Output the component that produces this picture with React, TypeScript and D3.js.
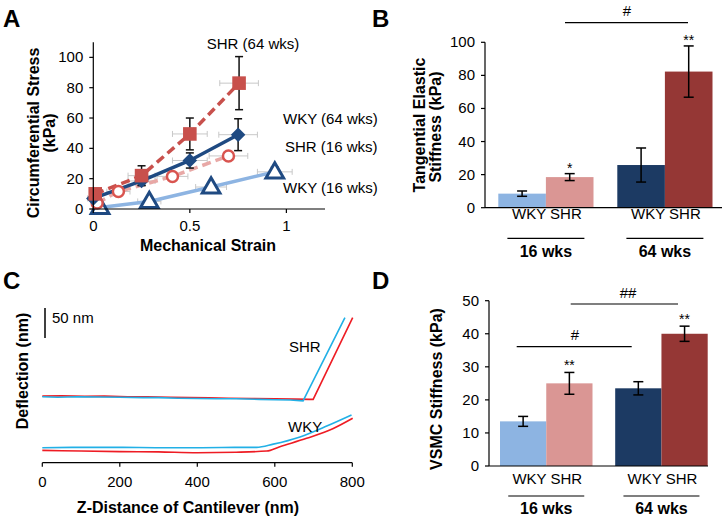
import React from 'react';
import * as d3 from 'd3';

const FONT = "'Liberation Sans', Arial, Helvetica, sans-serif";

// ---------- Panel A: stress-strain ----------
const strainTicksA = [0, 0.5, 1];
const stressTicksA = [0, 20, 40, 60, 80, 100];

const strainShr64 = [0.01, 0.25, 0.5, 0.755];
const stressShr64 = [10, 22, 49.5, 83];
const errYShr64 = [2, 6.5, 10.5, 17.5];
const errXShr64 = [0.03, 0.07, 0.09, 0.1];

const strainWky64 = [0.0, 0.25, 0.5, 0.75];
const stressWky64 = [7, 18.5, 32, 49];
const errYWky64 = [1, 3, 5, 10.5];
const errXWky64 = [0.03, 0.07, 0.09, 0.1];

const strainShr16 = [0.02, 0.13, 0.41, 0.7];
const stressShr16 = [4, 11.5, 21.5, 35];
const errYShr16 = [1, 1.5, 2, 2];
const errXShr16 = [0.02, 0.06, 0.08, 0.1];

const strainWky16 = [0.035, 0.29, 0.61, 0.94];
const stressWky16 = [1, 5, 14.5, 24.5];
const errYWky16 = [0.8, 1, 2, 3];
const errXWky16 = [0.02, 0.06, 0.08, 0.09];

// ---------- Panels B & D: bars ----------
const groups = ['16 wks', '64 wks'];
const strains = ['WKY', 'SHR'];
const tangential16 = [8.5, 18.5];
const tangential64 = [25.8, 82.3];
const tangentialErr16 = [1.6, 2.1];
const tangentialErr64 = [10.3, 15.5];
const tangentialStars = ['', '*', '', '**'];
const ticksB = [0, 20, 40, 60, 80, 100];

const vsmc16 = [13.5, 25];
const vsmc64 = [23.5, 40];
const vsmcErr16 = [1.5, 3.3];
const vsmcErr64 = [2, 2.3];
const vsmcStars = ['', '**', '', '**'];
const ticksD = [0, 10, 20, 30, 40, 50];

// ---------- Panel C: AFM force curves (z nm, deflection nm) ----------
const zTicksC = [0, 200, 400, 600, 800];
const shrBlueZ = [0, 40, 90, 150, 200, 260, 300, 350, 400, 450, 500, 560, 600, 640, 665, 673, 781];
const shrBlueD = [110, 109, 110, 109.5, 109, 108.5, 108.5, 107.5, 107, 106.5, 106.5, 105.5, 105, 104.5, 103.5, 103, 241.7];
const shrRedZ = [0, 50, 110, 160, 220, 270, 330, 380, 430, 480, 540, 600, 650, 690, 699, 801];
const shrRedD = [111, 111.5, 110.5, 111, 110, 110, 109, 108.5, 108, 107.5, 107, 106.5, 106, 105.5, 105.6, 241.7];
const wkyBlueZ = [0, 100, 200, 300, 400, 500, 553, 596, 665, 734, 798];
const wkyBlueD = [25, 25.5, 25.5, 25, 25, 25.5, 25.6, 31, 43, 61, 79.5];
const wkyRedZ = [0, 100, 200, 300, 400, 500, 579, 613, 682, 751, 801];
const wkyRedD = [20.5, 19.5, 18.5, 18, 16.7, 17.5, 19.5, 26.7, 40.6, 57, 74];
const scaleBarNm = 50;
const scaleBarBase = 207.8;

const C_LIGHTBLUE = '#8DB4E2';
const C_PINK = '#DA9694';
const C_NAVY = '#1C3A63';
const C_DARKRED = '#953735';
const barColors = [[C_LIGHTBLUE, C_PINK], [C_NAVY, C_DARKRED]];

function zip(xs: number[], ys: number[]) {
  return xs.map((x, i) => [x, ys[i]] as [number, number]);
}

function BarPanel(props: {
  y0: number; y1: number; axisX: number; axisEnd: number; domainMax: number; ticks: number[];
  rangeX: [number, number]; padInner: number; vals: number[][]; errs: number[][]; stars: string[];
  starOffset: number; labelY: number; lineY: number; groupY: number; lineHalf: number;
}) {
  const { y0, y1, axisX, axisEnd, domainMax, ticks, rangeX, padInner, vals, errs, stars, starOffset } = props;
  const y = d3.scaleLinear().domain([0, domainMax]).range([y0, y1]);
  const x0 = d3.scaleBand<string>().domain(groups).range(rangeX).paddingInner(padInner).paddingOuter(0);
  const x1 = d3.scaleBand<string>().domain(strains).range([0, x0.bandwidth()]);
  return (
    <g>
      {groups.map((g, gi) =>
        strains.map((s, si) => {
          const v = vals[gi][si];
          const e = errs[gi][si];
          const bx = (x0(g) as number) + (x1(s) as number);
          const bw = x1.bandwidth();
          const cx = bx + bw / 2;
          const star = stars[gi * 2 + si];
          return (
            <g key={g + s}>
              <rect x={bx} y={y(v)} width={bw} height={y(0) - y(v)} fill={barColors[gi][si]} />
              <line x1={cx} x2={cx} y1={y(v + e)} y2={y(v - e)} stroke="#000" strokeWidth={1.5} />
              <line x1={cx - 5} x2={cx + 5} y1={y(v + e)} y2={y(v + e)} stroke="#000" strokeWidth={1.5} />
              <line x1={cx - 5} x2={cx + 5} y1={y(v - e)} y2={y(v - e)} stroke="#000" strokeWidth={1.5} />
              {star && (
                <text x={cx} y={y(v + e) - starOffset} textAnchor="middle" fontSize={14} fontFamily={FONT}>{star}</text>
              )}
            </g>
          );
        })
      )}
      <line x1={axisX} x2={axisX} y1={y(domainMax)} y2={y(0)} stroke="#000" strokeWidth={1.2} />
      <line x1={axisX} x2={axisEnd} y1={y(0)} y2={y(0)} stroke="#000" strokeWidth={1.2} />
      {ticks.map((t) => (
        <g key={t}>
          <line x1={axisX - 4} x2={axisX} y1={y(t)} y2={y(t)} stroke="#000" strokeWidth={1.2} />
          <text x={axisX - 10} y={y(t) + 5} textAnchor="end" fontSize={15} fontFamily={FONT}>{t}</text>
        </g>
      ))}
      {groups.map((g) => {
        const c = (x0(g) as number) + x0.bandwidth() / 2;
        return (
          <g key={g}>
            <text x={c + 1} y={props.labelY} textAnchor="middle" fontSize={15} fontFamily={FONT}>WKY SHR</text>
            <line x1={c - props.lineHalf} x2={c + props.lineHalf} y1={props.lineY} y2={props.lineY} stroke="#000" strokeWidth={1.2} />
            <text x={c} y={props.groupY} textAnchor="middle" fontSize={16} fontWeight="bold" fontFamily={FONT}>{g}</text>
          </g>
        );
      })}
    </g>
  );
}

export default function App() {
  // Panel A scales
  const xA = d3.scaleLinear().domain([0, 1.2]).range([93.3, 325]);
  const yA = d3.scaleLinear().domain([0, 110]).range([209, 42.2]);
  const lineA = d3.line<[number, number]>().x((d) => xA(d[0])).y((d) => yA(d[1]));

  const seriesA = [
    { xs: strainWky16, ys: stressWky16, ex: errXWky16, ey: errYWky16, line: C_LIGHTBLUE, dash: '', marker: 'tri' },
    { xs: strainShr16, ys: stressShr16, ex: errXShr16, ey: errYShr16, line: '#E8A8A6', dash: '9,5', marker: 'circle' },
    { xs: strainWky64, ys: stressWky64, ex: errXWky64, ey: errYWky64, line: '#1F4A82', dash: '', marker: 'diamond' },
    { xs: strainShr64, ys: stressShr64, ex: errXShr64, ey: errYShr64, line: '#C8504C', dash: '9,5', marker: 'square' },
  ];

  // Panel C scales
  const xC = d3.scaleLinear().domain([0, 800]).range([42.3, 352.3]);
  const yC = d3.scaleLinear().domain([0, 300]).range([462.7, 282.7]);
  const lineC = d3.line<[number, number]>().x((d) => xC(d[0])).y((d) => yC(d[1])).curve(d3.curveMonotoneX);
  const lineCStraight = d3.line<[number, number]>().x((d) => xC(d[0])).y((d) => yC(d[1]));

  const triPath = d3.symbol(d3.symbolTriangle, 135)() as string;
  const sqPath = d3.symbol(d3.symbolSquare, 185)() as string;
  const diaPath = d3.symbol(d3.symbolSquare, 105)() as string;

  return (
    <svg width={723} height={522} style={{ position: 'absolute', left: 0, top: 0, background: '#fff' }} fontFamily={FONT}>
      <rect width={723} height={522} fill="#fff" />
      {/* Panel letters */}
      <text x={3} y={27} fontSize={24} fontWeight="bold">A</text>
      <text x={372} y={27} fontSize={24} fontWeight="bold">B</text>
      <text x={3} y={289} fontSize={24} fontWeight="bold">C</text>
      <text x={372} y={289} fontSize={24} fontWeight="bold">D</text>

      {/* ---------- Panel A ---------- */}
      <g>
        {seriesA.map((s, si) =>
          s.xs.map((xv, i) => {
            const yy = yA(s.ys[i]);
            const xl = xA(xv - s.ex[i]);
            const xr = xA(xv + s.ex[i]);
            return (
              <g key={'hx' + si + i} stroke="#C8C8C8" strokeWidth={1}>
                <line x1={xl} x2={xr} y1={yy} y2={yy} />
                <line x1={xl} x2={xl} y1={yy - 3} y2={yy + 3} />
                <line x1={xr} x2={xr} y1={yy - 3} y2={yy + 3} />
              </g>
            );
          })
        )}
        {seriesA.map((s, si) => (
          <path key={'l' + si} d={lineA(zip(s.xs, s.ys)) as string} fill="none" stroke={s.line}
            strokeWidth={3.5} strokeDasharray={s.dash || undefined} />
        ))}
        {seriesA.map((s, si) =>
          s.xs.map((xv, i) => {
            const cx = xA(xv);
            const yt = yA(s.ys[i] + s.ey[i]);
            const yb = yA(s.ys[i] - s.ey[i]);
            return (
              <g key={'vy' + si + i} stroke="#111" strokeWidth={1.5}>
                <line x1={cx} x2={cx} y1={yt} y2={yb} />
                <line x1={cx - 4} x2={cx + 4} y1={yt} y2={yt} />
                <line x1={cx - 4} x2={cx + 4} y1={yb} y2={yb} />
              </g>
            );
          })
        )}
        {seriesA.map((s, si) =>
          s.xs.map((xv, i) => {
            const cx = xA(xv);
            const cy = yA(s.ys[i]);
            if (s.marker === 'tri')
              return <path key={'m' + si + i} d={triPath} transform={`translate(${cx},${cy + 1})`} fill="#fff" stroke="#1F4A82" strokeWidth={3} />;
            if (s.marker === 'circle')
              return <circle key={'m' + si + i} cx={cx} cy={cy} r={5.5} fill="#fff" stroke="#D9544F" strokeWidth={2.5} />;
            if (s.marker === 'diamond')
              return <path key={'m' + si + i} d={diaPath} transform={`translate(${cx},${cy}) rotate(45)`} fill="#1F4A82" />;
            return <path key={'m' + si + i} d={sqPath} transform={`translate(${cx},${cy})`} fill="#C8504C" />;
          })
        )}
        <line x1={xA(0)} x2={xA(0)} y1={yA(110)} y2={yA(0)} stroke="#000" strokeWidth={1.2} />
        <line x1={xA(0)} x2={xA(1.2)} y1={yA(0)} y2={yA(0)} stroke="#000" strokeWidth={1.2} />
        {stressTicksA.map((t) => (
          <g key={'ya' + t}>
            <line x1={xA(0) - 4} x2={xA(0)} y1={yA(t)} y2={yA(t)} stroke="#000" strokeWidth={1.2} />
            <text x={xA(0) - 10} y={yA(t) + 5} textAnchor="end" fontSize={15}>{t}</text>
          </g>
        ))}
        {strainTicksA.map((t) => (
          <g key={'xa' + t}>
            <line x1={xA(t)} x2={xA(t)} y1={yA(0)} y2={yA(0) + 4} stroke="#000" strokeWidth={1.2} />
            <text x={xA(t)} y={231} textAnchor="middle" fontSize={15}>{t}</text>
          </g>
        ))}
        <text x={208} y={251} textAnchor="middle" fontSize={16} fontWeight="bold">Mechanical Strain</text>
        <text transform="translate(39,133) rotate(-90)" textAnchor="middle" fontSize={16} fontWeight="bold">Circumferential Stress</text>
        <text transform="translate(55,133) rotate(-90)" textAnchor="middle" fontSize={16} fontWeight="bold">(kPa)</text>
        <text x={253} y={49} textAnchor="middle" fontSize={15}>SHR (64 wks)</text>
        <text x={283} y={124} fontSize={15}>WKY (64 wks)</text>
        <text x={285} y={152} fontSize={15}>SHR (16 wks)</text>
        <text x={283} y={193} fontSize={15}>WKY (16 wks)</text>
      </g>

      {/* ---------- Panel B ---------- */}
      <BarPanel y0={207.7} y1={42.3} axisX={485} axisEnd={722} domainMax={100} ticks={ticksB}
        rangeX={[498.3, 712.5]} padInner={0.2}
        vals={[tangential16, tangential64]} errs={[tangentialErr16, tangentialErr64]} stars={tangentialStars}
        starOffset={1} labelY={218.5} lineY={238.3} groupY={257} lineHalf={38.5} />
      <line x1={565} x2={688} y1={22.7} y2={22.7} stroke="#000" strokeWidth={1.2} />
      <text x={627} y={16} textAnchor="middle" fontSize={15}>#</text>
      <text transform="translate(425,125) rotate(-90)" textAnchor="middle" fontSize={16} fontWeight="bold">Tangential Elastic</text>
      <text transform="translate(441,127) rotate(-90)" textAnchor="middle" fontSize={16} fontWeight="bold">Stiffness (kPa)</text>

      {/* ---------- Panel C ---------- */}
      <g>
        <path d={lineCStraight(zip(shrRedZ, shrRedD)) as string} fill="none" stroke="#EE1C24" strokeWidth={1.6} />
        <path d={lineCStraight(zip(shrBlueZ, shrBlueD)) as string} fill="none" stroke="#22B0E6" strokeWidth={1.6} />
        <path d={lineC(zip(wkyRedZ, wkyRedD)) as string} fill="none" stroke="#EE1C24" strokeWidth={1.6} />
        <path d={lineC(zip(wkyBlueZ, wkyBlueD)) as string} fill="none" stroke="#22B0E6" strokeWidth={1.6} />
        <line x1={xC(0)} x2={xC(800)} y1={yC(0)} y2={yC(0)} stroke="#000" strokeWidth={1.2} />
        {zTicksC.map((t) => (
          <g key={'xc' + t}>
            <line x1={xC(t)} x2={xC(t)} y1={yC(0)} y2={yC(0) + 4} stroke="#000" strokeWidth={1.2} />
            <text x={xC(t)} y={487} textAnchor="middle" fontSize={15}>{t}</text>
          </g>
        ))}
        <line x1={45} x2={45} y1={yC(scaleBarBase)} y2={yC(scaleBarBase + scaleBarNm)} stroke="#000" strokeWidth={1.5} />
        <text x={52} y={323} fontSize={15}>{scaleBarNm} nm</text>
        <text x={289} y={352} fontSize={15}>SHR</text>
        <text x={288} y={432} fontSize={15}>WKY</text>
        <text x={188} y={513} textAnchor="middle" fontSize={16} fontWeight="bold">Z-Distance of Cantilever (nm)</text>
        <text transform="translate(28,371) rotate(-90)" textAnchor="middle" fontSize={16} fontWeight="bold">Deflection (nm)</text>
      </g>

      {/* ---------- Panel D ---------- */}
      <BarPanel y0={466} y1={300.7} axisX={489} axisEnd={708} domainMax={50} ticks={ticksD}
        rangeX={[500, 707.7]} padInner={0.197}
        vals={[vsmc16, vsmc64]} errs={[vsmcErr16, vsmcErr64]} stars={vsmcStars}
        starOffset={2} labelY={483.5} lineY={496} groupY={514} lineHalf={38} />
      <line x1={516.7} x2={631.7} y1={346.7} y2={346.7} stroke="#000" strokeWidth={1.2} />
      <text x={575} y={340} textAnchor="middle" fontSize={15}>#</text>
      <line x1={570.7} x2={678} y1={304} y2={304} stroke="#000" strokeWidth={1.2} />
      <text x={628} y={298} textAnchor="middle" fontSize={15}>##</text>
      <text transform="translate(442,389) rotate(-90)" textAnchor="middle" fontSize={16} fontWeight="bold">VSMC Stiffness (kPa)</text>
    </svg>
  );
}
